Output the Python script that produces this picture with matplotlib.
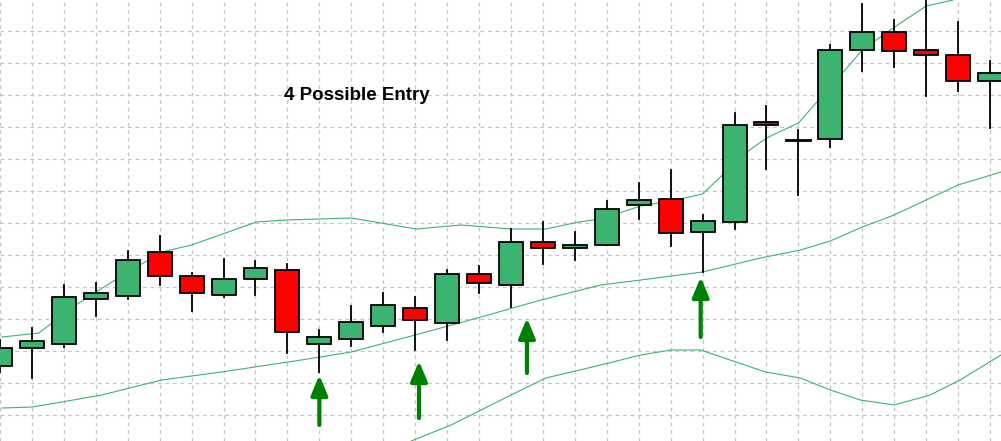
import numpy as np
import matplotlib.pyplot as plt

# candles: open, high, low, close (price units = chart pixels from bottom)
opens = [75, 93, 97, 142, 145, 189, 165, 146, 162, 171, 97, 102, 115, 133, 118, 167,
         156, 199, 193, 196, 236, 242, 209, 219, 319, 301, 302, 391, 409, 391, 386, 360]
closes = [93, 100, 144, 148, 181, 165, 148, 162, 173, 109, 104, 119, 136, 121, 167, 158,
          199, 193, 196, 232, 241, 208, 220, 316, 316, 301, 391, 409, 390, 386, 360, 368]
highs = [101, 113, 156, 158, 190, 205, 168, 182, 180, 177, 111, 135, 148, 144, 171, 175,
         212, 219, 209, 240, 258, 271, 226, 328, 335, 311, 396, 437, 421, 441, 419, 380]
lows = [69, 63, 94, 125, 142, 156, 130, 144, 146, 88, 69, 95, 109, 91, 101, 148,
        134, 177, 181, 196, 222, 195, 169, 212, 272, 246, 294, 370, 374, 345, 350, 313]

# Bollinger-style bands, (pixel x, price)
upper_x = [0, 37, 74, 110, 160, 190, 255, 285, 350, 415, 460, 510, 545, 578, 600, 640, 675, 702,
           722, 745, 766, 798, 843, 862, 887, 926, 953]
upper_y = [104, 108, 136, 159, 189, 196, 219, 221, 223, 212, 216, 212, 212, 219, 222, 235, 241,
           247, 266, 288, 303, 318, 369, 391, 409, 435, 441]
mid_x = [0, 30, 60, 100, 160, 220, 300, 350, 414, 480, 540, 600, 640, 702, 760, 800, 830, 862,
         894, 926, 958, 1001]
mid_y = [33, 34, 39, 46, 61, 69, 81, 89, 106, 124, 141, 156, 161, 169, 183, 191, 200, 214,
         226, 241, 256, 269]
lower_x = [410, 450, 510, 545, 600, 640, 670, 700, 765, 800, 830, 860, 894, 930, 960, 1001]
lower_y = [0, 16, 46, 63, 76, 86, 91, 91, 69, 63, 51, 41, 36, 46, 61, 86]

# entry arrows: candle index, tail, tip
arrow_k = [10, 13.12, 16.5, 21.94]
arrow_tail = [16, 23, 68, 104]
arrow_tip = [66, 80, 123, 164]

GREEN = "#3cb371"
RED = "#ff0000"

fig = plt.figure(figsize=(10.01, 4.41), dpi=100)
ax = fig.add_axes([0, 0, 1, 1])

def px(x):
    return (np.asarray(x) + 2) / 32.0

ax.plot(px(upper_x), upper_y, color=GREEN, lw=0.8, zorder=2)
ax.plot(px(mid_x), mid_y, color=GREEN, lw=0.8, zorder=2)
ax.plot(px(lower_x), lower_y, color=GREEN, lw=0.8, zorder=2)

w = 0.75
for k, (o, h, l, c) in enumerate(zip(opens, highs, lows, closes)):
    ax.plot([k, k], [l, h], color="black", lw=1.3, zorder=3)
    col = GREEN if c >= o else RED
    lo, hi = min(o, c), max(o, c)
    if hi - lo < 1.5:
        ax.plot([k - w / 2, k + w / 2], [lo, lo], color="black", lw=2, zorder=4)
    else:
        ax.add_patch(plt.Rectangle((k - w / 2, lo), w, hi - lo, facecolor=col,
                                   edgecolor="black", lw=1.3, zorder=4))

for k, t, p in zip(arrow_k, arrow_tail, arrow_tip):
    ax.annotate("", xy=(k, p), xytext=(k, t),
                arrowprops=dict(arrowstyle="-|>,head_width=0.5,head_length=1.2",
                                color="green", lw=3, shrinkA=0, shrinkB=0), zorder=5)

ax.text(px(356), 345, "4 Possible Entry", ha="center", va="center",
        fontsize=13.5, fontweight="bold", family="Liberation Sans")

ax.set_xlim(px(0), px(1001))
ax.set_ylim(0, 441)
ax.set_xticks(np.arange(0, 32))
ax.set_yticks(np.arange(26, 441, 32))
ax.grid(True, color="#c4c4c4", ls=(0, (3, 3)), lw=0.9)
ax.set_axisbelow(True)
ax.tick_params(length=0, labelbottom=False, labelleft=False)
for s in ax.spines.values():
    s.set_visible(False)

fig.savefig("out.png", dpi=100)
